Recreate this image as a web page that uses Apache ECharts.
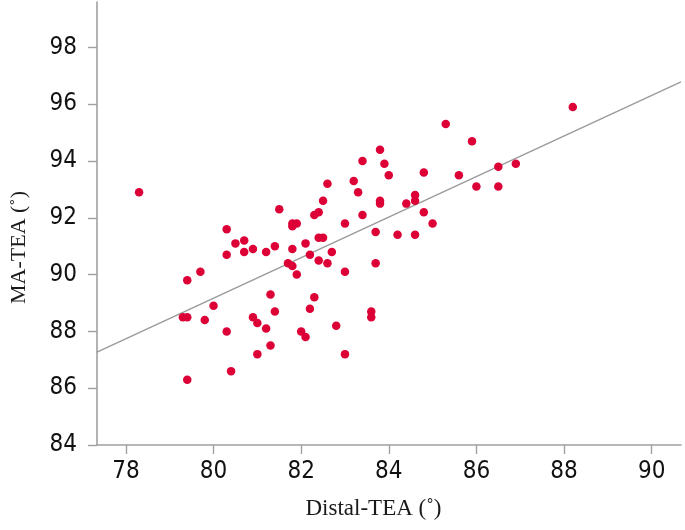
<!DOCTYPE html>
<html>
<head>
<meta charset="utf-8">
<script src="https://cdn.jsdelivr.net/npm/echarts@6/dist/echarts.min.js"></script>
<style>
html,body{margin:0;padding:0;background:#fff;}
#chart{width:685px;height:530px;}
</style>
</head>
<body>
<div id="chart"></div>
<script>
// Distal-TEA (x) vs MA-TEA (y), degrees
var distalTEA = [
  78.3, 80.3, 81.5, 81.8, 81.9, 81.8, 82.3, 82.4, 82.5, 82.6,
  83.0, 83.2, 83.3, 83.4, 83.4, 83.7, 83.8, 83.9, 84.0, 83.8,
  83.8, 85.3, 85.9, 88.2, 84.8, 85.6, 86.5, 86.9, 86.0, 86.5,
  84.6, 84.6, 84.4, 84.8, 85.0, 84.2, 84.6, 80.5, 80.7, 80.3,
  80.7, 80.9, 81.2, 81.4, 81.8, 82.1, 82.4, 82.5, 82.2, 82.7,
  82.4, 82.6, 83.7, 83.0, 81.7, 81.8, 81.9, 79.7, 79.4, 80.0,
  79.3, 79.4, 79.8, 80.3, 81.3, 81.4, 80.9, 81.0, 81.2, 81.3,
  81.0, 80.4, 79.4, 82.3, 82.2, 82.0, 82.1, 82.8, 83.0, 83.6,
  83.6
];
var maTEA = [
  92.9, 91.6, 92.3, 91.8, 91.8, 91.7, 92.1, 92.2, 92.6, 93.2,
  91.8, 93.3, 92.9, 94.0, 92.1, 91.5, 94.4, 93.9, 93.5, 92.6,
  92.5, 95.3, 94.7, 95.9, 93.6, 93.5, 93.8, 93.9, 93.1, 93.1,
  92.8, 92.6, 92.5, 92.2, 91.8, 91.4, 91.4, 91.1, 91.2, 90.7,
  90.8, 90.9, 90.8, 91.0, 90.9, 91.1, 91.3, 91.3, 90.7, 90.8,
  90.5, 90.4, 90.4, 90.1, 90.4, 90.3, 90.0, 90.1, 89.8, 88.9,
  88.5, 88.5, 88.4, 88.0, 89.3, 88.7, 88.5, 88.3, 88.1, 87.5,
  87.2, 86.6, 86.3, 89.2, 88.8, 88.0, 87.8, 88.2, 87.2, 88.7,
  88.5
];
// fitted regression line end points (at the plot edges)
var fitX = [77.34, 90.67];
var fitY = [87.27, 96.79];
// tick labels
var xTicks = [78, 80, 82, 84, 86, 88, 90];
var yTicks = [84, 86, 88, 90, 92, 94, 96, 98];
var xName = 'Distal-TEA (˚)';
var yName = 'MA-TEA (˚)';

var points = distalTEA.map(function (x, i) { return [x, maTEA[i]]; });
var fitLine = fitX.map(function (x, i) { return [x, fitY[i]]; });

var labelFont = '"Liberation Sans Narrow", "Arial Narrow", "DejaVu Sans Condensed", "Liberation Sans", sans-serif';
var axisGray = '#a0a0a0';

var chart = echarts.init(document.getElementById('chart'), null, {renderer: 'canvas'});
chart.setOption({
  animation: false,
  backgroundColor: '#fff',
  grid: {left: 96, right: 4, top: 2, bottom: 85, containLabel: false},
  xAxis: {
    type: 'value',
    min: 77.34,
    max: 90.67,
    name: xName,
    nameLocation: 'middle',
    nameGap: 52,
    nameTextStyle: {fontFamily: '"Liberation Serif", "Times New Roman", serif', fontSize: 23, color: '#1a1a1a', padding: [0, 31, 0, 0]},
    axisLine: {show: true, onZero: false, lineStyle: {color: axisGray, width: 1.6}},
    axisTick: {show: true, length: 9, customValues: xTicks, lineStyle: {color: axisGray, width: 1.4}},
    axisLabel: {customValues: xTicks, margin: 15, fontFamily: labelFont, fontSize: 24, color: '#111'},
    splitLine: {show: false}
  },
  yAxis: {
    type: 'value',
    min: 84,
    max: 99.6,
    name: yName,
    nameLocation: 'middle',
    nameGap: 67,
    nameRotate: 90,
    nameTextStyle: {fontFamily: '"Liberation Serif", "Times New Roman", serif', fontSize: 22, color: '#1a1a1a', padding: [0, 48, 0, 0]},
    axisLine: {show: true, onZero: false, lineStyle: {color: axisGray, width: 1.6}},
    axisTick: {show: true, length: 9, customValues: yTicks, lineStyle: {color: axisGray, width: 1.4}},
    axisLabel: {customValues: yTicks, margin: 20, fontFamily: labelFont, fontSize: 24, color: '#111'},
    splitLine: {show: false}
  },
  series: [
    {
      type: 'line',
      data: fitLine,
      symbol: 'none',
      lineStyle: {color: '#9a9a9a', width: 1.4},
      z: 1,
      silent: true
    },
    {
      type: 'scatter',
      data: points,
      symbol: 'circle',
      symbolSize: 8.5,
      itemStyle: {color: '#dc0036', opacity: 1},
      z: 2
    }
  ]
});
</script>
</body>
</html>
